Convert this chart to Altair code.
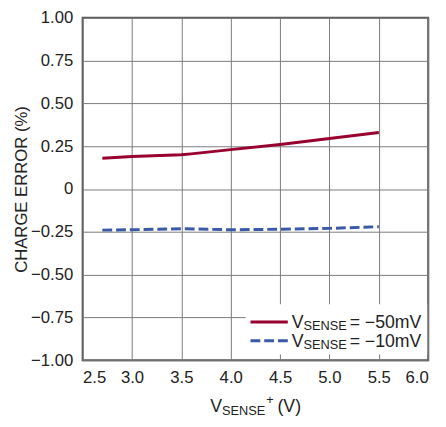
import altair as alt
import pandas as pd

# Data
x_red = [2.7, 3.0, 3.5, 3.6, 4.0, 4.5, 5.0, 5.5]
y_red = [0.18, 0.19, 0.20, 0.205, 0.23, 0.26, 0.295, 0.33]
x_blue = [2.7, 3.0, 3.5, 4.0, 4.5, 5.0, 5.5]
y_blue = [-0.24, -0.238, -0.232, -0.238, -0.235, -0.23, -0.22]
x_ticks = [2.5, 3.0, 3.5, 4.0, 4.5, 5.0, 5.5, 6.0]
y_ticks = [-1.0, -0.75, -0.5, -0.25, 0.0, 0.25, 0.5, 0.75, 1.0]

RED = "#98002e"
BLUE = "#3a5aa8"
FONT = "Liberation Sans"
W, H = 352, 349

xs = alt.Scale(domain=[2.5, 6.0], nice=False, zero=False)
ys = alt.Scale(domain=[-1.0, 1.0], nice=False, zero=False)

x_enc = alt.X("v:Q", scale=xs, axis=alt.Axis(
    values=x_ticks, title=None, ticks=False, domain=False,
    labelExpr="format(datum.value, '.1f')", labelPadding=10,
    labelFont=FONT, labelFontSize=17, labelColor="#222",
    gridColor="#7a7a7a", gridWidth=1, gridOpacity=1))
y_enc = alt.Y("err:Q", scale=ys, axis=alt.Axis(
    values=y_ticks, title="CHARGE ERROR (%)", ticks=False, domain=False,
    labelExpr="datum.value == 0 ? '0' : replace(format(datum.value, '.2f'), '-', '\u2212')",
    labelPadding=10, labelFont=FONT, labelFontSize=17, labelColor="#222",
    titleFont=FONT, titleFontSize=17, titleFontWeight="normal", titleColor="#222",
    titleX=-62, titleY=H / 2, titleAngle=-90, titleAlign="center", titleBaseline="middle",
    gridColor="#7a7a7a", gridWidth=1, gridOpacity=1))

red_df = pd.DataFrame({"v": x_red, "err": y_red})
blue_df = pd.DataFrame({"v": x_blue, "err": y_blue})

grid = alt.Chart(red_df).mark_line(opacity=0).encode(x=x_enc, y=y_enc)

red = alt.Chart(red_df).mark_line(color=RED, strokeWidth=3).encode(
    x=alt.X("v:Q", scale=xs), y=alt.Y("err:Q", scale=ys))
blue = alt.Chart(blue_df).mark_line(color=BLUE, strokeWidth=3, strokeDash=[10, 4]).encode(
    x=alt.X("v:Q", scale=xs), y=alt.Y("err:Q", scale=ys))

dummy = pd.DataFrame({"a": [0]})

def txt(t, x, y, size, align="left", color="#222"):
    return alt.Chart(dummy).mark_text(
        text=t, font=FONT, fontSize=size, align=align, baseline="alphabetic", color=color
    ).encode(x=alt.value(x), y=alt.value(y))

# Legend box
legend_box = alt.Chart(dummy).mark_rect(color="white").encode(
    x=alt.value(166), x2=alt.value(351), y=alt.value(292), y2=alt.value(343))
leg_red = alt.Chart(dummy).mark_rule(color=RED, strokeWidth=3).encode(
    x=alt.value(171), x2=alt.value(209), y=alt.value(310))
leg_blue = alt.Chart(dummy).mark_rule(color=BLUE, strokeWidth=3, strokeDash=[10, 4]).encode(
    x=alt.value(171), x2=alt.value(209), y=alt.value(329))

legend_texts = [
    txt("V", 213, 316, 18), txt("SENSE", 225, 318, 13), txt("= \u221250mV", 272, 316, 18),
    txt("V", 213, 335, 18), txt("SENSE", 225, 337, 13), txt("= \u221210mV", 272, 335, 18),
]

xtitle = [
    txt("V", 130, 402, 18), txt("SENSE", 142, 405, 13),
    txt("+", 187, 393, 13), txt("(V)", 198.5, 402, 18),
]

chart = alt.layer(grid, red, blue, legend_box, leg_red, leg_blue, *legend_texts, *xtitle).properties(
    width=W, height=H,
    autosize=alt.AutoSizeParams(type="none"),
    padding={"left": 76, "top": 6, "right": 10, "bottom": 60},
    background="white",
).configure_view(stroke="#555555", strokeWidth=2)

chart.save("out.html", embed_options={"renderer": "svg", "actions": False})
